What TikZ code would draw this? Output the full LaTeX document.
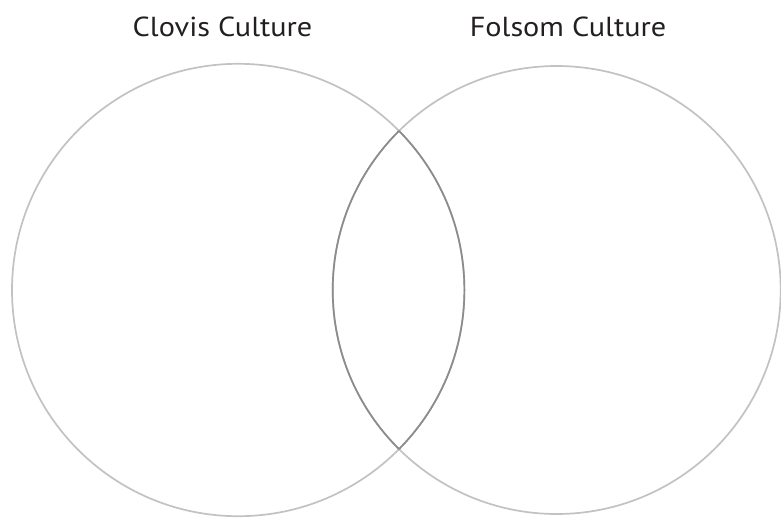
\documentclass[tikz,border=0pt]{standalone}
\usepackage{graphicx}
\usepackage{fontspec}
\setmainfont{PT Sans}
\definecolor{ringgray}{HTML}{C2C2C2}
\definecolor{lensgray}{HTML}{8C8C8E}
\definecolor{txt}{HTML}{231F20}
\newcommand{\widetitle}[1]{\scalebox{1.1}[1]{#1}}
\begin{document}
\begin{tikzpicture}[x=1pt,y=-1pt,
  ring/.style={draw=ringgray,line width=1.7pt},
  lens/.style={draw=lensgray,line width=1.7pt},
  title/.style={text=txt,font=\fontsize{27.5}{30}\selectfont,anchor=base,inner sep=0pt}]
\useasboundingbox (0,0) rectangle (781,517);
\coordinate (cl) at (238.2,290);
\coordinate (cr) at (556.7,290);
\draw[ring] (cl) circle[radius=226.2];
\draw[ring] (cr) circle[radius=224];
\begin{scope}
  \clip (cr) circle[radius=224];
  \draw[lens] (cl) circle[radius=226.2];
\end{scope}
\begin{scope}
  \clip (cl) circle[radius=226.2];
  \draw[lens] (cr) circle[radius=224];
\end{scope}
\node[title] (clovis) at (222.5,36.5) {\widetitle{Clovis Culture}};
\node[title] (folsom) at (568,36.5) {\widetitle{Folsom Culture}};
\end{tikzpicture}
\end{document}
